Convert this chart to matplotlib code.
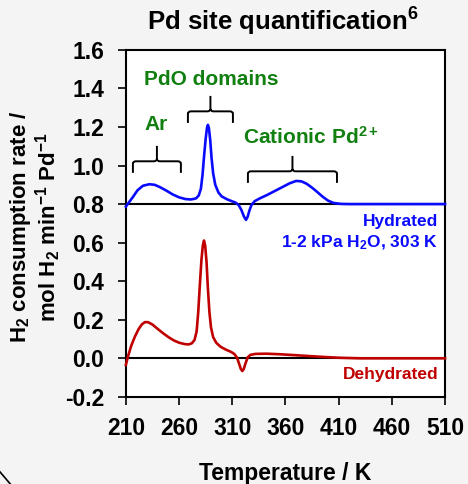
"""H2 TPR profiles of hydrated vs dehydrated Pd samples."""

import matplotlib

matplotlib.use("Agg")
import matplotlib.pyplot as plt
from matplotlib.lines import Line2D
from matplotlib.path import Path
from matplotlib.patches import PathPatch

plt.rcParams["font.family"] = ["Liberation Sans", "DejaVu Sans"]
plt.rcParams["font.weight"] = "bold"
plt.rcParams["axes.labelweight"] = "bold"
plt.rcParams["mathtext.fontset"] = "custom"
plt.rcParams["mathtext.rm"] = "Liberation Sans:bold"
plt.rcParams["mathtext.it"] = "Liberation Sans:bold"
plt.rcParams["mathtext.bf"] = "Liberation Sans:bold"
plt.rcParams["axes.unicode_minus"] = False

# hydrated sample (plotted with +0.8 offset)
hyd_temp = [210, 213, 217, 221, 226, 232, 237, 242, 248, 254,
            260, 266, 271, 274, 276, 278.5, 280.5, 282, 283.5, 285,
            286.2, 287.1, 288, 289.3, 290.5, 292, 294, 297, 300, 305,
            310, 313, 316, 318.5, 321, 322.9, 324.5, 326, 328, 331,
            336, 343, 350, 357, 364, 370, 375, 380, 385, 390,
            395, 400, 405, 412, 420, 510]
hyd_rate = [0.787, 0.810, 0.840, 0.872, 0.895, 0.903, 0.900, 0.888, 0.870, 0.850,
            0.835, 0.826, 0.824, 0.827, 0.830, 0.845, 0.880, 0.950, 1.050, 1.140,
            1.195, 1.211, 1.195, 1.130, 1.040, 0.960, 0.900, 0.860, 0.840, 0.825,
            0.814, 0.808, 0.795, 0.770, 0.735, 0.718, 0.735, 0.765, 0.795, 0.815,
            0.830, 0.848, 0.868, 0.888, 0.908, 0.920, 0.918, 0.905, 0.885, 0.862,
            0.838, 0.818, 0.806, 0.801, 0.800, 0.800]

# dehydrated sample
dehyd_temp = [210, 212, 215, 218.5, 222, 225, 228, 231, 235, 240,
              245, 250, 255, 260, 265, 269, 272, 274.5, 276.5, 278,
              279.5, 281, 282.3, 283.4, 284.5, 285.8, 287, 288.5, 290, 292,
              295, 299, 304, 309, 312, 314.5, 316.5, 318, 319.4, 320.8,
              322.5, 324.5, 327, 332, 342, 355, 370, 390, 410, 430, 510]
dehyd_rate = [-0.034, 0.010, 0.065, 0.113, 0.152, 0.176, 0.188, 0.187, 0.175, 0.152,
              0.130, 0.110, 0.093, 0.081, 0.074, 0.072, 0.078, 0.095, 0.140, 0.240,
              0.380, 0.510, 0.585, 0.611, 0.585, 0.500, 0.370, 0.240, 0.160, 0.110,
              0.080, 0.060, 0.045, 0.033, 0.022, 0.003, -0.030, -0.055, -0.066, -0.055,
              -0.025, 0.005, 0.018, 0.023, 0.024, 0.021, 0.016, 0.009, 0.003, 0.000, 0.000]

baselines = [0.8, 0.0]
x_ticks = [210, 260, 310, 360, 410, 460, 510]
y_ticks = [-0.2, 0.0, 0.2, 0.4, 0.6, 0.8, 1.0, 1.2, 1.4, 1.6]

# site regions: label, bracket span in K, bracket base, label position
region_labels = ["Ar", "PdO domains", "Cationic Pd$^{2+}$"]
region_spans = [(216.6, 261.7), (268.3, 310.6), (324.7, 408.4)]
region_base = [0.962, 1.221, 0.910]
region_text_pos = [(238.5, 1.215), (290.5, 1.445), (384.0, 1.150)]

BLUE = "#0a0aff"
RED = "#c00000"
GREEN = "#118011"


def brace(ax, x0, x1, y0, height=0.14, leg=0.06, r=3.0):
    """Draw a horizontal curly brace opening downward."""
    xc = (x0 + x1) / 2
    yb = y0 + leg
    ry = 0.012
    verts = [
        (x0, y0), (x0, yb - ry), (x0, yb), (x0 + r, yb),
        (xc - r, yb), (xc, yb), (xc, yb + ry), (xc, y0 + height),
        (xc, yb + ry), (xc, yb), (xc + r, yb),
        (x1 - r, yb), (x1, yb), (x1, yb - ry), (x1, y0),
    ]
    codes = [
        Path.MOVETO, Path.LINETO, Path.CURVE3, Path.CURVE3,
        Path.LINETO, Path.CURVE3, Path.CURVE3, Path.LINETO,
        Path.MOVETO, Path.CURVE3, Path.CURVE3,
        Path.LINETO, Path.CURVE3, Path.CURVE3, Path.LINETO,
    ]
    ax.add_patch(PathPatch(Path(verts, codes), fill=False, lw=1.4,
                           edgecolor="black", capstyle="butt", clip_on=False))


fig = plt.figure(figsize=(4.68, 4.84), dpi=100, facecolor="#f4f4f4")
ax = fig.add_axes([0.269, 0.180, 0.682, 0.717])
ax.set_facecolor("white")

for level in baselines:
    ax.axhline(level, color="black", lw=1.5, zorder=1)

ax.plot(hyd_temp, hyd_rate, color=BLUE, lw=1.9, zorder=3, clip_on=False,
        solid_joinstyle="round")
ax.plot(dehyd_temp, dehyd_rate, color=RED, lw=1.9, zorder=3, clip_on=False,
        solid_joinstyle="round")

for label, (t0, t1), base, (tx, ty) in zip(region_labels, region_spans,
                                           region_base, region_text_pos):
    brace(ax, t0, t1, base)
    ax.text(tx, ty, label, color=GREEN, fontsize=15, ha="center", va="center")

ax.text(503.5, 0.71, "Hydrated", color=BLUE, fontsize=12.5, ha="right", va="center")
ax.text(503.5, 0.60, "1-2 kPa H$_2$O, 303 K", color=BLUE, fontsize=12.5,
        ha="right", va="center")
ax.text(503.5, -0.086, "Dehydrated", color=RED, fontsize=12.5, ha="right",
        va="center")

ax.set_xlim(210, 510)
ax.set_ylim(-0.2, 1.6)
ax.set_xticks(x_ticks)
ax.set_yticks(y_ticks)
ax.set_yticklabels([f"{v:.1f}" for v in y_ticks])
ax.tick_params(direction="out", length=5.5, width=1.2, labelsize=16.5, pad=9)
ax.tick_params(axis="y", pad=10)
for spine in ax.spines.values():
    spine.set_linewidth(1.5)

ax.set_xlabel("Temperature / K", fontsize=16.5, fontweight="bold", labelpad=16)
ax.set_ylabel("H$_2$ consumption rate /\nmol H$_2$ min$^{-1}$ Pd$^{-1}$",
              fontsize=16, fontweight="bold", linespacing=1.0)
ax.yaxis.set_label_coords(-0.198, 0.49)
fig.text(0.605, 0.954, "Pd site quantification$^6$", fontsize=18.5,
         fontweight="bold", ha="center", va="center")

# slide decoration in the lower left corner
fig.add_artist(Line2D([0.0, 0.022], [0.025, 0.0], transform=fig.transFigure,
                      color="black", lw=1.2))

fig.savefig("out.png", dpi=100, facecolor=fig.get_facecolor())
